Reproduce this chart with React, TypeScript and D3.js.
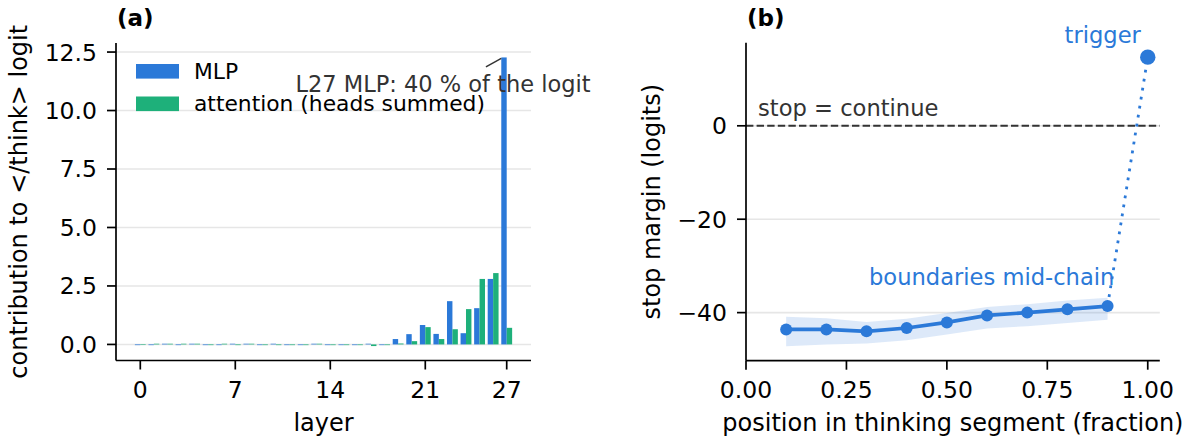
import React from 'react';
import * as d3 from 'd3';

// ---- panel (a): per-layer contribution to the </think> logit
const layers = [0, 1, 2, 3, 4, 5, 6, 7, 8, 9, 10, 11, 12, 13, 14, 15, 16, 17, 18, 19, 20, 21, 22, 23, 24, 25, 26, 27];
const mlp = [-0.03, -0.03, 0.03, -0.03, 0.03, -0.03, -0.03, 0.03, 0.03, -0.03, 0.03, -0.03, -0.03, 0.03,
  -0.03, -0.03, -0.03, 0.03, -0.03, 0.23, 0.44, 0.83, 0.45, 1.85, 0.48, 1.55, 2.8, 12.27];
const attention = [-0.02, 0.03, 0.03, 0.03, 0.03, -0.03, 0.03, -0.03, 0.03, -0.03, -0.03, -0.03, -0.03, 0.03,
  -0.03, -0.03, -0.03, -0.07, -0.03, 0.04, 0.14, 0.74, 0.23, 0.65, 1.51, 2.8, 3.05, 0.71];
const layerTicks = [0, 7, 14, 21, 27];
const contribTicks = [0, 2.5, 5, 7.5, 10, 12.5];
const seriesNames = ['MLP', 'attention (heads summed)'];
const peakNote = 'L27 MLP: 40 % of the logit';

// ---- panel (b): stop margin along the thinking segment
const fractions = [0.1, 0.2, 0.3, 0.4, 0.5, 0.6, 0.7, 0.8, 0.9];
const stopMargin = [-43.6, -43.6, -44.0, -43.3, -42.1, -40.6, -40.0, -39.3, -38.6];
const marginHi = [-40.9, -41.2, -42.0, -41.3, -40.1, -38.8, -38.2, -37.4, -36.8];
const marginLo = [-47.2, -46.8, -46.6, -45.9, -44.7, -43.4, -42.9, -42.2, -41.5];
const trigger = { x: 1.0, y: 14.7 };
const fracTicks = [0, 0.25, 0.5, 0.75, 1.0];
const marginTicks = [-40, -20, 0];

const BLUE = '#2b79d8';
const GREEN = '#1eb07a';
const GRID = '#e6e6e6';
const FONT = '"DejaVu Sans", sans-serif';
const barW = 0.4;

const pad = (lo: number, hi: number): [number, number] => {
  const m = (hi - lo) * 0.05;
  return [lo - m, hi + m];
};

function PanelA() {
  const box = { left: 116, right: 531, top: 43, bottom: 360.5 };
  const [l0, l1] = d3.extent(layers) as [number, number];
  const x = d3.scaleLinear().domain(pad(l0 - barW, l1 + barW)).range([box.left, box.right]);
  const all = mlp.concat(attention);
  const y = d3.scaleLinear().domain(pad(d3.min(all)!, d3.max(all)!)).range([box.bottom, box.top]);
  const fmt = d3.format('.1f');

  const bar = (v: number, x0: number, fill: string, key: string) => (
    <rect key={key} x={x(x0)} width={x(x0 + barW) - x(x0)}
      y={y(Math.max(0, v))} height={Math.max(0.6, Math.abs(y(v) - y(0)))} fill={fill} />
  );

  return (
    <g>
      {contribTicks.map(t => (
        <line key={'g' + t} x1={box.left} x2={box.right} y1={y(t)} y2={y(t)} stroke={GRID} strokeWidth={1.6} />
      ))}
      {layers.map((l, i) => bar(mlp[i], l - barW, BLUE, 'm' + l))}
      {layers.map((l, i) => bar(attention[i], l, GREEN, 'a' + l))}

      {/* axes */}
      <line x1={box.left} x2={box.left} y1={box.top} y2={box.bottom} stroke="#000" strokeWidth={1.7} />
      <line x1={box.left} x2={box.right} y1={box.bottom} y2={box.bottom} stroke="#000" strokeWidth={1.7} />
      {contribTicks.map(t => (
        <g key={'yt' + t}>
          <line x1={box.left - 9} x2={box.left} y1={y(t)} y2={y(t)} stroke="#000" strokeWidth={1.7} />
          <text x={box.left - 19} y={y(t)} dy="0.36em" textAnchor="end" fontSize={23.5}>{fmt(t)}</text>
        </g>
      ))}
      {layerTicks.map(t => (
        <g key={'xt' + t}>
          <line x1={x(t)} x2={x(t)} y1={box.bottom} y2={box.bottom + 9} stroke="#000" strokeWidth={1.7} />
          <text x={x(t)} y={398.3} textAnchor="middle" fontSize={23.5}>{t}</text>
        </g>
      ))}
      <text x={(box.left + box.right) / 2} y={431} textAnchor="middle" fontSize={24}>layer</text>
      <text transform={`translate(27,${(box.top + box.bottom) / 2}) rotate(-90)`} textAnchor="middle" fontSize={24}>
        contribution to &lt;/think&gt; logit
      </text>
      <text x={box.left + 1} y={26} fontSize={23} fontWeight="bold">(a)</text>

      {/* legend */}
      {[BLUE, GREEN].map((c, i) => (
        <g key={'lg' + i}>
          <rect x={136} y={64 + i * 32.5} width={43} height={14.6} fill={c} />
          <text x={194} y={78.7 + i * 32.2} fontSize={21.8}>{seriesNames[i]}</text>
        </g>
      ))}

      {/* annotation on the L27 MLP bar */}
      <line x1={x(25.47)} y1={y(11.87)} x2={x(26.6)} y2={y(12.23)} stroke="#333" strokeWidth={1.5} />
      <text x={x(11.43)} y={y(10.8)} fontSize={22.5} fill="#333">{peakNote}</text>
    </g>
  );
}

function PanelB() {
  const box = { left: 746, right: 1159.8, top: 42.7, bottom: 360.7 };
  const x = d3.scaleLinear().domain([0, 1.03]).range([box.left, box.right]);
  const lo = d3.min(marginLo.concat([trigger.y]))!;
  const hi = d3.max(marginHi.concat([trigger.y]))!;
  const y = d3.scaleLinear().domain(pad(lo, hi)).range([box.bottom, box.top]);
  const fmtX = d3.format('.2f');
  const fmtY = d3.format('d');

  const band = d3.area<number>()
    .x((_, i) => x(fractions[i]))
    .y0((_, i) => y(marginLo[i]))
    .y1((_, i) => y(marginHi[i]));
  const line = d3.line<number>()
    .x((_, i) => x(fractions[i]))
    .y(d => y(d));
  const last = stopMargin.length - 1;

  return (
    <g>
      {marginTicks.map(t => (
        <line key={'g' + t} x1={box.left} x2={box.right} y1={y(t)} y2={y(t)} stroke={GRID} strokeWidth={1.6} />
      ))}
      <line x1={box.left} x2={box.right} y1={y(0)} y2={y(0)} stroke="#333" strokeWidth={2} strokeDasharray="7.4 3.2" />
      <path d={band(stopMargin) || ''} fill={BLUE} fillOpacity={0.16} stroke="none" />
      <line x1={x(fractions[last])} y1={y(stopMargin[last])} x2={x(trigger.x)} y2={y(trigger.y)}
        stroke={BLUE} strokeWidth={2.8} strokeDasharray="2.8 6.3" />
      <path d={line(stopMargin) || ''} fill="none" stroke={BLUE} strokeWidth={3.7} />
      {stopMargin.map((v, i) => (
        <circle key={'p' + i} cx={x(fractions[i])} cy={y(v)} r={6} fill={BLUE} />
      ))}
      <circle cx={x(trigger.x)} cy={y(trigger.y)} r={7.7} fill={BLUE} />

      {/* axes */}
      <line x1={box.left} x2={box.left} y1={box.top} y2={box.bottom} stroke="#000" strokeWidth={1.7} />
      <line x1={box.left} x2={box.right} y1={box.bottom} y2={box.bottom} stroke="#000" strokeWidth={1.7} />
      {marginTicks.map(t => (
        <g key={'yt' + t}>
          <line x1={box.left - 9} x2={box.left} y1={y(t)} y2={y(t)} stroke="#000" strokeWidth={1.7} />
          <text x={box.left - 19} y={y(t)} dy="0.36em" textAnchor="end" fontSize={23.5}>{fmtY(t)}</text>
        </g>
      ))}
      {fracTicks.map(t => (
        <g key={'xt' + t}>
          <line x1={x(t)} x2={x(t)} y1={box.bottom} y2={box.bottom + 9} stroke="#000" strokeWidth={1.7} />
          <text x={x(t)} y={398.3} textAnchor="middle" fontSize={23.5}>{fmtX(t)}</text>
        </g>
      ))}
      <text x={(box.left + box.right) / 2} y={431} textAnchor="middle" fontSize={24}>
        position in thinking segment (fraction)
      </text>
      <text transform={`translate(660,${(box.top + box.bottom) / 2}) rotate(-90)`} textAnchor="middle" fontSize={24}>
        stop margin (logits)
      </text>
      <text x={box.left + 1} y={26} fontSize={23} fontWeight="bold">(b)</text>

      {/* annotations */}
      <text x={x(0.03)} y={y(2.1)} fontSize={22.6} fill="#333">stop = continue</text>
      <text x={x(0.917)} y={y(-34.1)} textAnchor="end" fontSize={22.6} fill={BLUE}>boundaries mid-chain</text>
      <text x={x(0.983)} y={y(17.7)} textAnchor="end" fontSize={22.6} fill={BLUE}>trigger</text>
    </g>
  );
}

export default function App() {
  return (
    <svg width={1193} height={437} style={{ position: 'absolute', left: 0, top: 0, background: '#fff' }}
      fontFamily={FONT}>
      <rect width={1193} height={437} fill="#fff" />
      <PanelA />
      <PanelB />
    </svg>
  );
}
